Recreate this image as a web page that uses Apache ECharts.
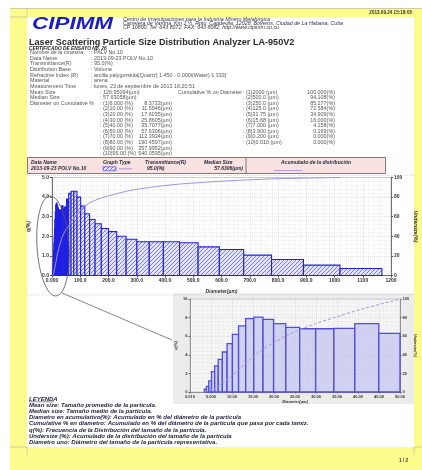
<!DOCTYPE html>
<html>
<head>
<meta charset="utf-8">
<script src="https://cdn.jsdelivr.net/npm/echarts@6/dist/echarts.min.js"></script>
<style>
  html, body { margin: 0; padding: 0; background: #fff; }
  #page { width: 422px; height: 470px; }
</style>
</head>
<body>
<div id="page"></div>
<script>
// ---- Particle size channels (µm) and frequency q(%) for the whole sample ----
const mainEdges = [2.98, 3.41, 3.90, 4.47, 5.12, 5.87, 6.72, 7.70, 8.82, 10.10, 11.56, 13.25, 15.17, 17.38, 19.90,
  22.80, 26.11, 29.91, 34.25, 39.23, 44.94, 51.47, 58.95, 67.52, 77.34, 88.58, 101.46, 116.21, 133.10, 152.45,
  174.62, 200.00, 229.08, 262.37, 300.52, 344.21, 394.24, 451.56, 517.20, 592.39, 678.50, 777.13, 890.10, 1019.5, 1167.7];
const mainFreq = [0.1, 0.2, 0.35, 0.6, 1.0, 1.3, 1.65, 2.0, 2.4, 2.85, 3.25, 3.6, 3.7, 3.6, 3.45, 3.35, 3.3, 3.35, 3.55, 3.4,
  3.5, 3.9, 4.2, 4.3, 4.3, 4.0, 3.54, 3.15, 2.86, 2.64, 2.4, 2.24, 2.0, 1.85, 1.72, 1.72, 1.72, 1.67, 1.46, 1.33,
  1.04, 0.82, 0.53, 0.36];
// Undersize (%) at each channel edge
const mainUndersize = [0, 0.05, 0.17, 0.4, 0.8, 1.4, 2.5, 4.6, 6.4, 8.2, 10.0, 12.6, 15.2, 19.5, 22.6, 26.2, 30.1, 33.4,
  38.0, 41.5, 44.6, 47.7, 50.6, 54.5, 58.7, 62.8, 67.0, 70.6, 74.2, 76.8, 79.2, 81.2, 83.5, 85.9, 88.0, 89.8, 91.6,
  93.3, 94.7, 96.1, 97.4, 98.6, 99.4, 100.0];

// ---- Detail of the fine fraction (0 - 50 µm) ----
const insetEdges = [3.41, 3.90, 4.47, 5.12, 5.87, 6.72, 7.70, 8.82, 10.10, 11.56, 13.25, 15.17, 17.38, 19.90, 22.80,
  26.11, 29.91, 34.25, 39.23, 44.94, 51.47];
const insetFreq = [0.3, 0.6, 1.2, 2.2, 2.8, 3.5, 4.3, 5.2, 6.2, 7.1, 7.9, 8.05, 7.8, 7.35, 6.95, 6.8, 6.8, 6.85, 7.35, 6.3];
const insetUndersize = [0, 0.4, 1.0, 2.0, 4.0, 6.5, 9.5, 13.5, 18, 24, 31, 38.5, 46, 53, 60, 67, 73.5, 80, 87, 94, 101.7];

// ---- Tick labels ----
const mainXTicks = ['0.000', '100.0', '200.0', '300.0', '400.0', '500.0', '600.0', '700.0', '800.0', '900.0', '1000', '1100', '1200'];
const mainYTicks = ['0.0', '1.0', '2.0', '3.0', '4.0', '5.0'];
const pctTicks = ['0', '20', '40', '60', '80', '100'];
const insetXTicks = ['0.010', '5.000', '10.00', '15.00', '20.00', '25.00', '30.00', '35.00', '40.00', '45.00', '50.00'];
const insetYTicks = ['0', '2', '4', '6', '8', '10'];

const FF = '"Liberation Sans", Arial, sans-serif';
const BAR_BLUE = '#2020e2';

// diagonal hatch used for the histogram bars
function makeHatch() {
  const c = document.createElement('canvas');
  c.width = 4; c.height = 4;
  const g = c.getContext('2d');
  g.fillStyle = '#e2e2f9';
  g.fillRect(0, 0, 4, 4);
  g.strokeStyle = '#7272d6';
  g.lineWidth = 0.9;
  g.beginPath();
  g.moveTo(-1, 5); g.lineTo(5, -1);
  g.moveTo(-1, 1); g.lineTo(1, -1);
  g.moveTo(3, 5); g.lineTo(5, 3);
  g.stroke();
  return c;
}
const hatch = { image: makeHatch(), repeat: 'repeat' };

// bars spanning [edge_i, edge_i+1]; channels too narrow to show a fill are painted solid
function barRenderer(fill, stroke, lw, solidBelow) {
  return function (params, api) {
    const a = api.coord([api.value(0), api.value(2)]);
    const b = api.coord([api.value(1), 0]);
    const cs = params.coordSys;
    const r = echarts.graphic.clipRectByRect(
      { x: a[0], y: a[1], width: b[0] - a[0], height: b[1] - a[1] },
      { x: cs.x, y: cs.y, width: cs.width, height: cs.height });
    if (!r) return null;
    const solid = r.width < solidBelow;
    return { type: 'rect', shape: r, style: { fill: solid ? stroke : fill, stroke: stroke, lineWidth: lw } };
  };
}

function T(x, y, text, font, fill, align, extra) {
  return Object.assign({
    type: 'text', x: x, y: y, z: 20,
    style: { text: text, font: font, fill: fill || '#333', textAlign: align || 'left', textVerticalAlign: 'middle' }
  }, extra || {});
}
function L(x1, y1, x2, y2, color, w, dash) {
  return {
    type: 'line', z: 20, shape: { x1: x1, y1: y1, x2: x2, y2: y2 },
    style: { stroke: color, lineWidth: w || 0.8, lineDash: dash || null }
  };
}

const g = [];
// page backgrounds
g.push({ type: 'rect', z: -10, shape: { x: 10, y: 8, width: 412, height: 462 }, style: { fill: '#fcfc8c' } });
g.push(Object.assign(L(10, 8.5, 422, 8.5, '#d4cc9c', 1), { z: -9 }));
g.push({ type: 'rect', z: -9, shape: { x: 27, y: 17, width: 387, height: 430 }, style: { fill: '#ffffff' } });
g.push(L(27, 9, 27, 17, '#b9b49a', 0.6), L(10, 17, 27, 17, '#b9b49a', 0.6));
g.push(L(27, 447, 27, 455, '#b9b49a', 0.6), L(10, 447, 27, 447, '#b9b49a', 0.6));
g.push(L(414, 447, 414, 455, '#b9b49a', 0.6), L(414, 447, 422, 447, '#b9b49a', 0.6));
g.push(T(412, 12.5, '2013.09.24 15:18:05', 'bold 4.6px ' + FF, '#333', 'right'));

// letterhead
g.push(T(32, 24.5, 'CIPIMM', 'bold italic 17px ' + FF, '#1c1cc8', 'left', { scaleX: 1.32 }));
const af = 'italic 5.3px ' + FF;
g.push(T(123, 19.8, 'Centro de Investigaciones para la Industria Minero Metalúrgica', af, '#333'));
g.push(T(123, 23.9, 'Carretera de Varona, Km 1 ½, Rpto. Capdevila, 12028, Boyeros, Ciudad de La Habana, Cuba', af, '#333'));
g.push(T(123, 28, 'CP 10800, Tel: 643 8072, FAX: 643 8082, http://www.cipimm.co.cu', af, '#333'));
g.push(T(29, 42.5, 'Laser Scattering Particle Size Distribution Analyzer LA-950V2', 'bold 9.1px ' + FF, '#2a2a2a'));
g.push(T(29, 48.2, 'CERTIFICADO DE ENSAYO No. 26', 'bold italic 4.8px ' + FF, '#222'));

// measurement conditions
const kf = '5.4px ' + FF, kc = '#555555';
const info = [
  ['Nombre de la muestra', ': PALV No.10'],
  ['Data Name', ': 2013-09-23 POLV No.10'],
  ['Transmittance(R)', ': 95.0(%)'],
  ['Distribution Base', ': Volume'],
  ['Refractive Index (R)', ': arcilla palygorskita[Quartz] 1.450 - 0.000i(Water) 1.333]'],
  ['Material', ': arena'],
  ['Measurement Time', ': lunes, 23 de septiembre de 2013 16:20:51']
];
info.forEach((r, i) => {
  const y = 52.8 + i * 5.6;
  g.push(T(30, y, r[0], kf, kc), T(91, y, r[1], kf, kc));
});
const y0 = 92.2, dy = 5.6;
g.push(T(30, y0, 'Mean Size', kf, kc), T(100, y0, ': 126.95094(µm)', kf, kc));
g.push(T(30, y0 + dy, 'Median Size', kf, kc), T(100, y0 + dy, ': 57.63058(µm)', kf, kc));
g.push(T(30, y0 + 2 * dy, 'Diameter on Cumulative %', kf, kc), T(100, y0 + 2 * dy, ':', kf, kc));
const cumList = [
  ['(1)6.000 (%)', '8.3733(µm)'], ['(2)10.00 (%)', '11.5946(µm)'], ['(3)20.00 (%)', '17.6035(µm)'],
  ['(4)30.00 (%)', '25.8605(µm)'], ['(5)40.00 (%)', '35.7077(µm)'], ['(6)50.00 (%)', '57.6306(µm)'],
  ['(7)70.00 (%)', '112.3934(µm)'], ['(8)80.00 (%)', '190.4597(µm)'], ['(9)90.00 (%)', '357.9952(µm)'],
  ['(10)95.00 (%)', '540.0595(µm)']
];
cumList.forEach((r, i) => {
  const y = y0 + (2 + i) * dy;
  g.push(T(103, y, r[0], kf, kc), T(172, y, r[1], kf, kc, 'right'));
  if (i > 0) g.push(T(100, y, ':', kf, kc));
});
g.push(T(178, y0, 'Cumulative % on Diameter', kf, kc));
const diaList = [
  ['(1)2000 (µm)', '100.000(%)'], ['(2)500.0 (µm)', '94.108(%)'], ['(3)250.0 (µm)', '85.277(%)'],
  ['(4)125.0 (µm)', '72.584(%)'], ['(5)31.75 (µm)', '34.909(%)'], ['(6)15.68 (µm)', '16.000(%)'],
  ['(7)7.000 (µm)', '4.158(%)'], ['(8)3.900 (µm)', '0.169(%)'], ['(9)0.200 (µm)', '0.000(%)'],
  ['(10)0.010 (µm)', '0.000(%)']
];
diaList.forEach((r, i) => {
  const y = y0 + i * dy;
  g.push(T(243, y, ':', kf, kc), T(246, y, r[0], kf, kc), T(335, y, r[1], kf, kc, 'right'));
});

// header table above the histogram
const hf = 'bold italic 5px ' + FF, hc = '#2a2a3a';
g.push({ type: 'rect', z: 15, shape: { x: 27.5, y: 157.5, width: 358, height: 16 }, style: { fill: '#f8e2e2', stroke: '#6e5858', lineWidth: 0.8 } });
g.push(L(246, 157.5, 246, 173.5, '#6e5858', 0.8));
g.push(T(31, 162.5, 'Data Name', hf, hc), T(103, 162.5, 'Graph Type', hf, hc), T(145, 162.5, 'Transmittance(R)', hf, hc), T(204, 162.5, 'Median Size', hf, hc));
g.push(T(31, 168.8, '2013-09-23 POLV No.10', hf, hc), T(147, 168.8, '95.0(%)', hf, hc), T(243, 168.8, '57.6306(µm)', hf, hc, 'right'));
g.push({ type: 'rect', z: 21, shape: { x: 103, y: 166.8, width: 13, height: 4 }, style: { fill: hatch, stroke: '#3434e0', lineWidth: 0.6 } });
g.push(L(119, 168.8, 132, 168.8, '#a494d8', 0.9));
g.push(T(316, 163, 'Acumulado de la distribución', hf, hc, 'center'));
g.push(L(274, 170.5, 302, 170.5, '#a494d8', 0.9));
g.push(L(27, 175.5, 414, 175.5, '#c4c4c4', 0.6, [1, 1]));
g.push(L(27, 295, 414, 295, '#c4c4c4', 0.6, [1, 1]));

// detail panel and the pointer to it
g.push({ type: 'rect', z: -8, shape: { x: 173, y: 293, width: 241, height: 111 }, style: { fill: '#ececec' } });
g.push({ type: 'ellipse', z: 22, x: 53, y: 246, rotation: 0.06, shape: { cx: 0, cy: 0, rx: 16, ry: 50 }, style: { fill: 'none', stroke: '#555', lineWidth: 0.8 } });
g.push(L(62, 293, 172, 340, '#666', 0.8));

// legend of terms
const lf = 'bold italic 6px ' + FF, lc = '#1f1f3a';
const terms = [
  'Mean size: Tamaño promedio de la partícula.',
  'Median size: Tamaño medio de la partícula.',
  'Diametro en acumulativo(%): Acumulado en % del diámetro de la partícula',
  'Cumulative % en diametro: Acumulado en % del diámetro de la partícula que pasa por cada tamiz.',
  'q(%): Frecuencia de la Distribución del tamaño de la partícula.',
  'Undersize (%): Acumulado de la distribución del tamaño de la partícula',
  'Diametro uno: Diámetro del tamaño de la partícula representativa.'
];
g.push(T(29, 399, 'LEYENDA', lf, lc));
g.push(L(29, 401.8, 54, 401.8, lc, 0.5));
terms.forEach((s, i) => g.push(T(29, 405.2 + i * 6.2, s, lf, lc)));
g.push(T(408, 461, '1 / 2', 'bold 4.6px ' + FF, '#333', 'right'));

const axisFont = { fontSize: 5, fontWeight: 'bold', color: '#333', fontFamily: FF };
const nameFont = { fontSize: 5, fontWeight: 'bold', fontStyle: 'italic', color: '#333', fontFamily: FF };
const majorSplit = { show: true, lineStyle: { color: '#c2c2c2', width: 0.5, type: [1, 1] } };
const minorSplit = { show: true, lineStyle: { color: '#dedede', width: 0.5, type: [1, 1] } };

const chart = echarts.init(document.getElementById('page'), null, { renderer: 'canvas' });
chart.setOption({
  backgroundColor: '#ffffff',
  animation: false,
  graphic: g,
  grid: [
    { left: 52, top: 177.5, width: 339, height: 98, show: true, backgroundColor: '#ffffff', borderColor: '#999', borderWidth: 0.5, outerBoundsMode: 'none', containLabel: false },
    { left: 190, top: 299, width: 210, height: 93, show: true, backgroundColor: '#f6f6f6', borderColor: '#aaa', borderWidth: 0.5, outerBoundsMode: 'none', containLabel: false }
  ],
  xAxis: [
    {
      gridIndex: 0, type: 'value', min: 0, max: 1200, interval: 100,
      axisLine: { show: true, lineStyle: { color: '#555', width: 0.8 } },
      axisTick: { show: true, length: 2, lineStyle: { color: '#555' } },
      axisLabel: Object.assign({ margin: 3, formatter: v => mainXTicks[Math.round(v / 100)] }, axisFont),
      splitLine: majorSplit, minorTick: { show: false, splitNumber: 5 }, minorSplitLine: minorSplit,
      name: 'Diameter(µm)', nameLocation: 'middle', nameGap: 14, nameTextStyle: nameFont
    },
    {
      gridIndex: 1, type: 'value', min: 0, max: 50, interval: 5,
      axisLine: { show: true, lineStyle: { color: '#666', width: 0.6 } },
      axisTick: { show: true, length: 1.5, lineStyle: { color: '#666' } },
      axisLabel: Object.assign({}, axisFont, { fontSize: 4, margin: 2.5, formatter: v => insetXTicks[Math.round(v / 5)] }),
      splitLine: majorSplit, minorTick: { show: false, splitNumber: 5 }, minorSplitLine: minorSplit,
      name: 'Diameter(µm)', nameLocation: 'middle', nameGap: 8, nameTextStyle: Object.assign({}, nameFont, { fontSize: 4 })
    }
  ],
  yAxis: [
    {
      gridIndex: 0, type: 'value', min: 0, max: 5, interval: 1,
      axisLine: { show: true, lineStyle: { color: '#555', width: 0.8 } },
      axisTick: { show: true, length: 2, lineStyle: { color: '#555' } },
      axisLabel: Object.assign({ margin: 3, formatter: v => mainYTicks[Math.round(v)] }, axisFont),
      splitLine: majorSplit, minorTick: { show: false, splitNumber: 5 }, minorSplitLine: minorSplit,
      name: 'q(%)', nameLocation: 'middle', nameGap: 16, nameRotate: 90, nameTextStyle: nameFont
    },
    {
      gridIndex: 0, type: 'value', min: 0, max: 100, interval: 20, position: 'right',
      axisLine: { show: true, lineStyle: { color: '#555', width: 0.8 } },
      axisTick: { show: true, length: 2, lineStyle: { color: '#555' } },
      axisLabel: Object.assign({ margin: 3, formatter: v => pctTicks[Math.round(v / 20)] }, axisFont),
      splitLine: { show: false },
      name: 'Undersize(%)', nameLocation: 'middle', nameGap: 14, nameRotate: -90, nameTextStyle: nameFont
    },
    {
      gridIndex: 1, type: 'value', min: 0, max: 10, interval: 2,
      axisLine: { show: true, lineStyle: { color: '#666', width: 0.6 } },
      axisTick: { show: true, length: 1.5, lineStyle: { color: '#666' } },
      axisLabel: Object.assign({}, axisFont, { fontSize: 4, margin: 2.5, formatter: v => insetYTicks[Math.round(v / 2)] }),
      splitLine: majorSplit, minorTick: { show: false, splitNumber: 5 }, minorSplitLine: minorSplit,
      name: 'q(%)', nameLocation: 'middle', nameGap: 12, nameRotate: 90, nameTextStyle: Object.assign({}, nameFont, { fontSize: 4 })
    },
    {
      gridIndex: 1, type: 'value', min: 0, max: 100, interval: 20, position: 'right',
      axisLine: { show: true, lineStyle: { color: '#666', width: 0.6 } },
      axisTick: { show: true, length: 1.5, lineStyle: { color: '#666' } },
      axisLabel: Object.assign({}, axisFont, { fontSize: 4, margin: 2.5, formatter: v => pctTicks[Math.round(v / 20)] }),
      splitLine: { show: false },
      name: 'Undersize(%)', nameLocation: 'middle', nameGap: 10, nameRotate: -90, nameTextStyle: Object.assign({}, nameFont, { fontSize: 3.6 })
    }
  ],
  series: [
    {
      type: 'custom', xAxisIndex: 0, yAxisIndex: 0, z: 3, silent: true,
      data: mainFreq.map((q, i) => [mainEdges[i], mainEdges[i + 1], q]),
      encode: { x: [0, 1], y: 2 },
      renderItem: barRenderer(hatch, BAR_BLUE, 1.1, 2.2)
    },
    {
      type: 'line', xAxisIndex: 0, yAxisIndex: 1, z: 4, silent: true, symbol: 'none',
      data: mainUndersize.map((c, i) => [mainEdges[i], c]),
      lineStyle: { color: '#a494d8', width: 1 }
    },
    {
      type: 'custom', xAxisIndex: 1, yAxisIndex: 2, z: 3, silent: true,
      data: insetFreq.map((q, i) => [insetEdges[i], insetEdges[i + 1], q]),
      encode: { x: [0, 1], y: 2 },
      renderItem: barRenderer('rgba(196,196,240,0.75)', '#5050d4', 1.3, 0)
    },
    {
      type: 'line', xAxisIndex: 1, yAxisIndex: 3, z: 4, silent: true, symbol: 'none',
      data: insetUndersize.map((c, i) => [insetEdges[i], c]),
      lineStyle: { color: '#a494d8', width: 1, type: [3, 2] }
    }
  ]
});
</script>
</body>
</html>
